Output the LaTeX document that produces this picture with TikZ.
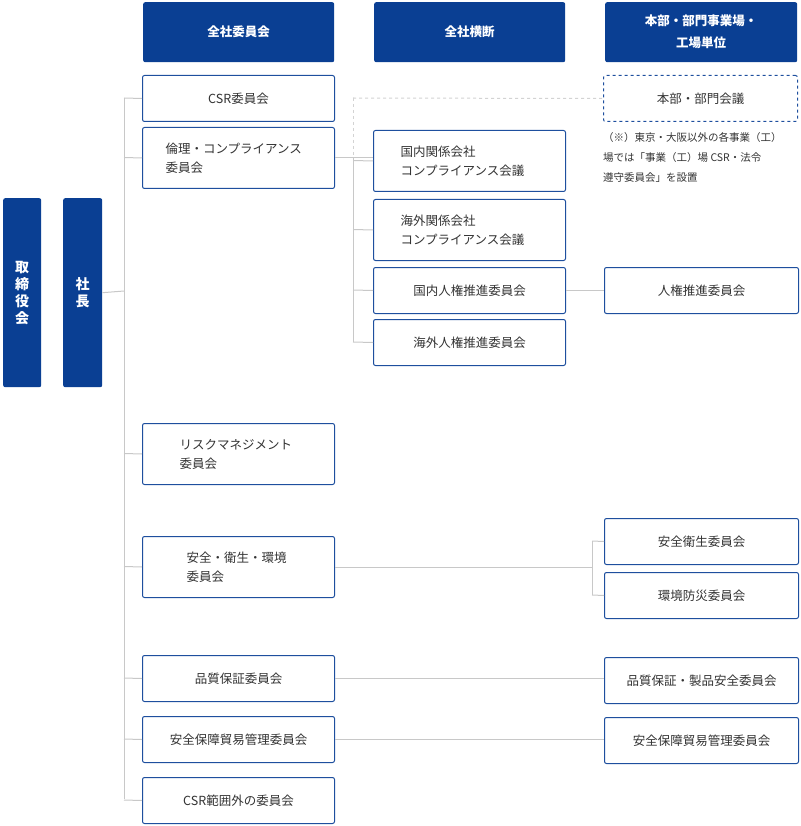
\documentclass[tikz,border=0pt]{standalone}
\usepackage{fontspec}
\setmainfont{Noto Sans CJK JP}
\definecolor{hdr}{HTML}{0A3F93}
\definecolor{bd}{HTML}{1E4F9E}
\definecolor{ln}{HTML}{C8C8C8}
\definecolor{tx}{HTML}{333333}
\begin{document}
\begin{tikzpicture}[x=1pt,y=-1pt,
 hbox/.style={fill=hdr,text=white,rounded corners=2pt,font=\fontsize{12.5}{22}\selectfont\bfseries,align=center,inner sep=0},
 wbox/.style={draw=bd,line width=1pt,fill=white,rounded corners=2pt,text=tx,font=\fontsize{12.5}{19}\selectfont,inner sep=0},
 cn/.style={draw=ln,line width=1pt}]
\useasboundingbox (0,0) rectangle (800,826);
% headers
\node[hbox,minimum width=191,minimum height=60,anchor=north west] (h1) at (143,2) {全社委員会};
\node[hbox,minimum width=191,minimum height=60,anchor=north west] (h2) at (374,2) {全社横断};
\node[hbox,minimum width=192,minimum height=60,anchor=north west] (h3) at (605,2) {本部・部門事業場・\\工場単位};
\node[hbox,minimum width=38,minimum height=189,anchor=north west,font=\fontsize{14}{17}\selectfont\bfseries] (tori) at (3,198) {取\\締\\役\\会};
\node[hbox,minimum width=39,minimum height=189,anchor=north west,font=\fontsize{14}{17}\selectfont\bfseries] (sha) at (63,198) {社\\長};
% spine
\coordinate (s0) at (124,98); \coordinate (s1) at (124,799);
\draw[cn] (s0) -- (s1);
\draw[cn] (sha.east) -- (124,291);
% left column
\def\cc#1#2#3#4{\node[wbox,minimum width=192,minimum height=#3-#2,anchor=north west,align=left] (#1) at (142,#2) {#4};
 \draw[cn] (124,#2/2+#3/2) -- (#1.west);}
\cc{c1}{75}{121}{CSR委員会}
\cc{c2}{127}{188}{\makebox[146pt][l]{倫理・コンプライアンス}\\\makebox[146pt][l]{委員会}}
\cc{c3}{423}{484}{\makebox[118pt][l]{リスクマネジメント}\\\makebox[118pt][l]{委員会}}
\cc{c4}{536}{597}{\makebox[104pt][l]{安全・衛生・環境}\\\makebox[104pt][l]{委員会}}
\cc{c5}{655}{701}{品質保証委員会}
\cc{c6}{716}{762}{安全保障貿易管理委員会}
\cc{c7}{777}{823}{CSR範囲外の委員会}
% middle
\draw[cn,dashed,draw=ln!80] (353,98) -- (353,158);
\draw[cn] (353,158) -- (353,342);
\draw[cn] (c2.east) -- (373,158);
\def\mm#1#2#3#4{\node[wbox,minimum width=192,minimum height=#3-#2,anchor=north west,align=left] (#1) at (373,#2) {#4};
 \draw[cn] (353,#2/2+#3/2) -- (#1.west);}
\mm{m1}{130}{191}{\makebox[138pt][l]{国内関係会社}\\\makebox[138pt][l]{コンプライアンス会議}}
\mm{m2}{199}{260}{\makebox[138pt][l]{海外関係会社}\\\makebox[138pt][l]{コンプライアンス会議}}
\mm{m3}{267}{313}{国内人権推進委員会}
\mm{m4}{319}{365}{海外人権推進委員会}
% right
\node[wbox,dashed,minimum width=194,minimum height=46,anchor=north west] (r0) at (603,75) {本部・部門会議};
\draw[cn,dashed,draw=ln!80] (353,98) -- (r0.west);
\node[anchor=north west,text=tx,font=\fontsize{10.5}{20}\selectfont,align=left,inner sep=0] (note) at (603,132) {（※）東京・大阪以外の各事業（工）\\場では「事業（工）場 CSR・法令\\遵守委員会」を設置};
\def\rr#1#2#3#4{\node[wbox,minimum width=194,minimum height=#3-#2,anchor=north west] (#1) at (604,#2) {#4};}
\rr{r1}{267}{313}{人権推進委員会}
\rr{r2}{518}{564}{安全衛生委員会}
\rr{r3}{572}{618}{環境防災委員会}
\rr{r4}{657}{703}{品質保証・製品安全委員会}
\rr{r5}{717}{763}{安全保障貿易管理委員会}
\draw[cn] (m3.east) -- (r1.west);
\draw[cn] (c4.east) -- (592,567);
\draw[cn] (592,541) -- (592,595);
\draw[cn] (592,541) -- (r2.west);
\draw[cn] (592,595) -- (r3.west);
\draw[cn] (c5.east) -- (c5.east -| r4.west);
\draw[cn] (c6.east) -- (c6.east -| r5.west);
\end{tikzpicture}
\end{document}
